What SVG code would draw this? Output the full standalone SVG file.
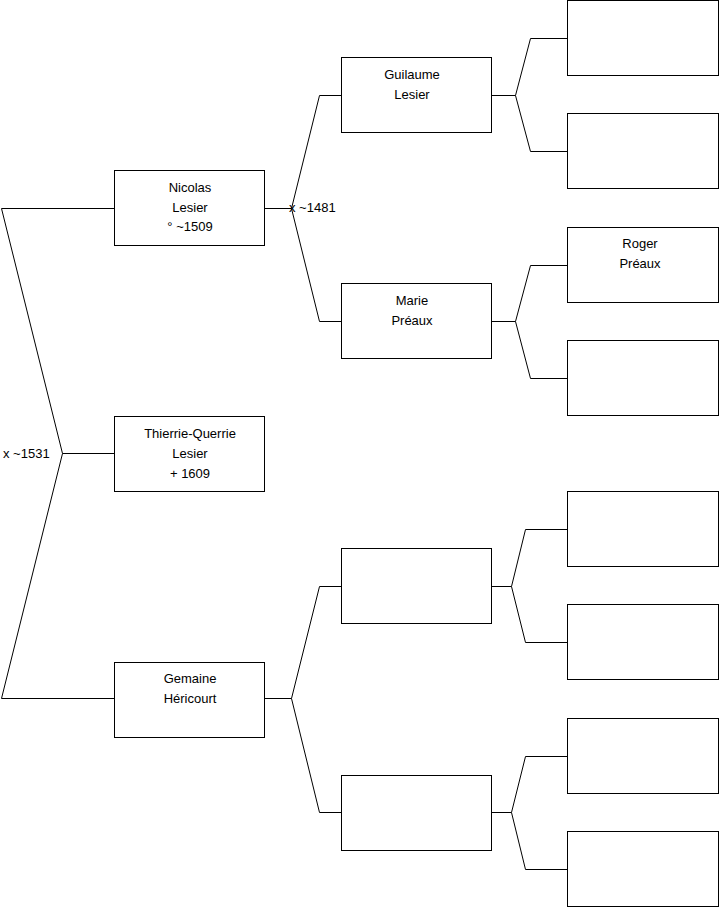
<svg xmlns="http://www.w3.org/2000/svg" width="719" height="908" viewBox="0 0 719 908">
<style>
.box{fill:#fff;stroke:#000;stroke-width:1}
.ln{fill:none;stroke:#000;stroke-width:1}
text{font-family:"Liberation Sans",Arial,sans-serif;font-size:13px;fill:#000}
.c{text-anchor:middle}
</style>
<rect width="719" height="908" fill="#fff"/>
<g id="connectors">
<polyline class="ln" points="114.5,208.5 1.5,208.5 62.5,453.5 1.5,698.5 114.5,698.5"/>
<line class="ln" x1="62.5" y1="453.5" x2="114.5" y2="453.5"/>
<polyline class="ln" points="341.5,95.5 319.5,95.5 291.5,208.5 319.5,321.5 341.5,321.5"/>
<line class="ln" x1="264.5" y1="208.5" x2="291.5" y2="208.5"/>
<polyline class="ln" points="341.5,586.5 319.5,586.5 291.5,698.5 319.5,812.5 341.5,812.5"/>
<line class="ln" x1="264.5" y1="698.5" x2="291.5" y2="698.5"/>
<polyline class="ln" points="567.5,38.5 530.5,38.5 515.5,95.5 530.5,151.5 567.5,151.5"/>
<line class="ln" x1="491.5" y1="95.5" x2="515.5" y2="95.5"/>
<polyline class="ln" points="567.5,265.5 530.5,265.5 515.5,321.5 530.5,378.5 567.5,378.5"/>
<line class="ln" x1="491.5" y1="321.5" x2="515.5" y2="321.5"/>
<polyline class="ln" points="567.5,529.5 525.5,529.5 511.5,586.5 525.5,642.5 567.5,642.5"/>
<line class="ln" x1="491.5" y1="586.5" x2="511.5" y2="586.5"/>
<polyline class="ln" points="567.5,756.5 525.5,756.5 511.5,812.5 525.5,869.5 567.5,869.5"/>
<line class="ln" x1="491.5" y1="812.5" x2="511.5" y2="812.5"/>
<text x="289" y="211.5">x ~1481</text>
<text x="3" y="457.5">x ~1531</text>
</g>
<g id="nicolas"><rect class="box" x="114.5" y="170.5" width="150" height="75"/>
<text class="c" x="190" y="191.5">Nicolas</text><text class="c" x="190" y="211.5">Lesier</text><text class="c" x="190" y="231">° ~1509</text></g>
<g id="thierrie"><rect class="box" x="114.5" y="416.5" width="150" height="75"/>
<text class="c" x="190" y="437.5">Thierrie-Querrie</text><text class="c" x="190" y="457.5">Lesier</text><text class="c" x="190" y="477.5">+ 1609</text></g>
<g id="gemaine"><rect class="box" x="114.5" y="662.5" width="150" height="75"/>
<text class="c" x="190" y="682.5">Gemaine</text><text class="c" x="190" y="702.5">Héricourt</text></g>
<g id="guilaume"><rect class="box" x="341.5" y="57.5" width="150" height="75"/>
<text class="c" x="412" y="78.5">Guilaume</text><text class="c" x="412" y="98.5">Lesier</text></g>
<g id="marie"><rect class="box" x="341.5" y="283.5" width="150" height="75"/>
<text class="c" x="412" y="304.5">Marie</text><text class="c" x="412" y="324.5">Préaux</text></g>
<g id="p21"><rect class="box" x="341.5" y="548.5" width="150" height="75"/></g>
<g id="p22"><rect class="box" x="341.5" y="775.5" width="150" height="75"/></g>
<g id="p31"><rect class="box" x="567.5" y="0.5" width="151" height="75"/></g>
<g id="p32"><rect class="box" x="567.5" y="113.5" width="151" height="75"/></g>
<g id="roger"><rect class="box" x="567.5" y="227.5" width="151" height="75"/>
<text class="c" x="640" y="247.5">Roger</text><text class="c" x="640" y="267.5">Préaux</text></g>
<g id="p34"><rect class="box" x="567.5" y="340.5" width="151" height="75"/></g>
<g id="p35"><rect class="box" x="567.5" y="491.5" width="151" height="75"/></g>
<g id="p36"><rect class="box" x="567.5" y="604.5" width="151" height="75"/></g>
<g id="p37"><rect class="box" x="567.5" y="718.5" width="151" height="75"/></g>
<g id="p38"><rect class="box" x="567.5" y="831.5" width="151" height="75"/></g>
</svg>
